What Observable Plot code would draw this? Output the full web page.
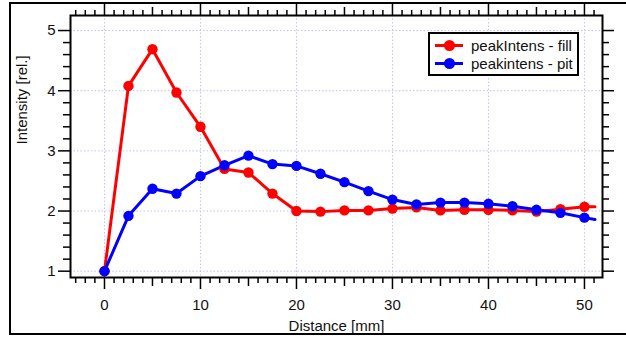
<!DOCTYPE html>
<html><head><meta charset="utf-8">
<script src="https://cdn.jsdelivr.net/npm/d3@7"></script>
<script src="https://cdn.jsdelivr.net/npm/@observablehq/plot@0.6"></script>
<style>
body{margin:0;background:#fff;font-family:Arial,"Liberation Sans",sans-serif}
#wrap{position:relative;width:626px;height:338px;overflow:hidden}
#legend{position:absolute;left:428px;top:32px;width:147px;height:40px;border:2px solid #000;background:#fff;font-size:15px;color:#111}
.row{position:absolute;left:0;height:18px;display:flex;align-items:center;white-space:nowrap}
.sw{position:relative;width:28px;height:3px;margin-left:5px;margin-right:8px}
.sw i{position:absolute;left:9px;top:-4px;width:11px;height:11px;border-radius:50%}
</style></head><body>
<div id="wrap"></div>
<script>
const distance = [0,2.5,5,7.5,10,12.5,15,17.5,20,22.5,25,27.5,30,32.5,35,37.5,40,42.5,45,47.5,50];
const fill = [1.0,4.08,4.69,3.97,3.40,2.70,2.64,2.29,2.00,1.99,2.01,2.01,2.04,2.06,2.01,2.02,2.02,2.01,1.99,2.03,2.07];
const pit  = [1.0,1.92,2.37,2.29,2.58,2.76,2.92,2.78,2.75,2.62,2.48,2.33,2.19,2.11,2.14,2.14,2.12,2.08,2.02,1.97,1.89];
const tailX = 51.1, fillTail = 2.07, pitTail = 1.86;
const seriesNames = ["peakIntens - fill", "peakintens - pit"];
const colors = ["#ff0000", "#0000ff"];
const xMajor = [0,10,20,30,40,50];
const xMid = [5,15,25,35,45];
const xMinor = d3.range(-3, 52).filter(v => v % 5 !== 0);
const yMajor = [1,2,3,4,5];
const yMinor = [1.2,1.4,1.6,1.8,2.2,2.4,2.6,2.8,3.2,3.4,3.6,3.8,4.2,4.4,4.6,4.8];

const pts = [];
distance.forEach((d,i)=>{ pts.push({x:d,y:fill[i],s:seriesNames[0]}); pts.push({x:d,y:pit[i],s:seriesNames[1]}); });
const linePts = pts.concat([{x:tailX,y:fillTail,s:seriesNames[0]},{x:tailX,y:pitTail,s:seriesNames[1]}]);

const grid = {stroke:"#c0c0ff", strokeOpacity:1, strokeDasharray:"1.5,2", strokeWidth:1};
const tk = {stroke:"#000", strokeWidth:1.5, label:null};
const blank = () => "";
const intFmt = d3.format("d");

const chart = Plot.plot({
  width:626, height:338,
  marginLeft:70, marginRight:24, marginTop:15, marginBottom:61,
  x:{domain:[-3.54,51.88], label:null},
  y:{domain:[0.895,5.25], label:null},
  color:{domain:seriesNames, range:colors},
  style:{fontFamily:"Arial, 'Liberation Sans', sans-serif", fontSize:"15px", color:"#111", background:"transparent"},
  marks:[
    Plot.gridX({ticks:xMajor, ...grid}),
    Plot.gridY({ticks:yMajor, ...grid}),
    Plot.axisX({ticks:xMajor, tickSize:12, tickPadding:10, tickFormat:intFmt, fontSize:15, ...tk}),
    Plot.axisX({ticks:xMid, tickSize:9, tickFormat:blank, ...tk}),
    Plot.axisX({ticks:xMinor, tickSize:6, tickFormat:blank, ...tk}),
    Plot.axisX({anchor:"top", ticks:xMajor, tickSize:12, tickFormat:blank, ...tk}),
    Plot.axisX({anchor:"top", ticks:xMid, tickSize:9, tickFormat:blank, ...tk}),
    Plot.axisX({anchor:"top", ticks:xMinor, tickSize:6, tickFormat:blank, ...tk}),
    Plot.axisY({ticks:yMajor, tickSize:12, tickPadding:3, tickFormat:intFmt, fontSize:15, ...tk}),
    Plot.axisY({ticks:yMinor, tickSize:7, tickFormat:blank, ...tk}),
    Plot.axisY({anchor:"right", ticks:yMajor, tickSize:11, tickFormat:blank, ...tk}),
    Plot.axisY({anchor:"right", ticks:yMinor, tickSize:6, tickFormat:blank, ...tk}),
    Plot.line(linePts, {x:"x", y:"y", z:"s", stroke:"s", strokeWidth:3}),
    Plot.dot(pts, {x:"x", y:"y", fill:"s", r:5.2}),
    Plot.frame({stroke:"#000", strokeWidth:2}),
    Plot.text(["Intensity [rel.]"], {text:d=>d, frameAnchor:"left", rotate:-90, dx:-48, dy:-2, fontSize:15, fill:"#111"}),
    Plot.text(["Distance [mm]"], {text:d=>d, frameAnchor:"bottom", dy:49, lineAnchor:"middle", fontSize:15, fill:"#111"})
  ]
});
d3.select(chart).append("rect").attr("x",10).attr("y",3).attr("width",640).attr("height",331)
  .attr("fill","none").attr("stroke","#000").attr("stroke-width",2);
const wrap = document.getElementById("wrap");
wrap.appendChild(chart);
const lg = document.createElement("div");
lg.id = "legend";
seriesNames.forEach((n,i)=>{
  const r = document.createElement("div");
  r.className = "row";
  r.style.top = (i===0 ? 2 : 20.5) + "px";
  r.innerHTML = `<span class="sw" style="background:${colors[i]}"><i style="background:${colors[i]}"></i></span><span>${n}</span>`;
  lg.appendChild(r);
});
wrap.appendChild(lg);
</script>
</body></html>
